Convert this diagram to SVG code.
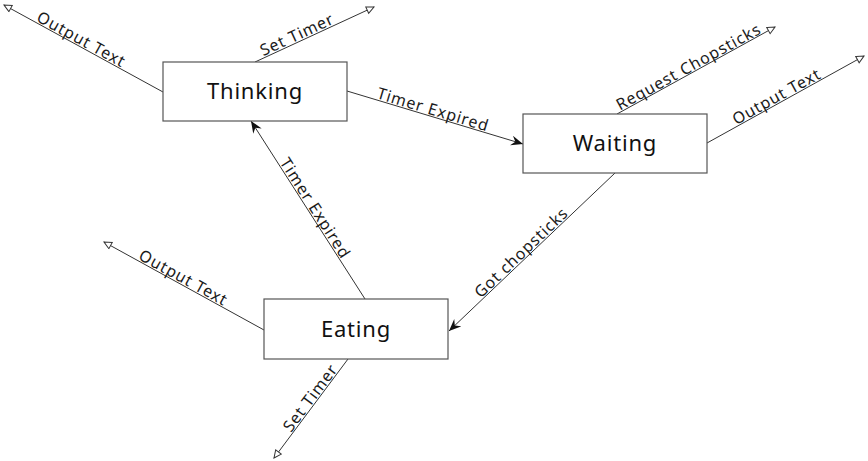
<svg xmlns="http://www.w3.org/2000/svg" width="868" height="461" viewBox="0 0 868 461">
<style>
.box{fill:#fff;stroke:#555;stroke-width:1.2}
.name{font-family:"Noto Sans","Liberation Sans",sans-serif;font-size:22px;letter-spacing:0.8px;fill:#111;text-anchor:middle;dominant-baseline:central}
.edge{fill:none;stroke:#333;stroke-width:1}
.lbl{font-family:"Noto Sans","Liberation Sans",sans-serif;font-size:16px;letter-spacing:0.9px;fill:#1a1a1a;text-anchor:middle}
.trans{marker-end:url(#solid)}
.out{marker-end:url(#open)}
</style>
<defs>
<marker id="solid" markerUnits="userSpaceOnUse" markerWidth="14" markerHeight="12" refX="12" refY="5" orient="auto">
<path d="M0,0 L12,5 L0,10 L4,5 z" fill="#111"/>
</marker>
<marker id="open" markerUnits="userSpaceOnUse" markerWidth="12" markerHeight="10" refX="8.5" refY="4" orient="auto">
<path d="M1,0.5 L8.5,4 L1,7.5 z" fill="#fff" stroke="#333" stroke-width="1"/>
</marker>
</defs>
<g id="connectors">
<line class="edge out" x1="163" y1="92" x2="4" y2="5"/>
<text class="lbl" transform="translate(78,45.5) rotate(28.7)" dy="-1.5">Output Text</text>
<line class="edge out" x1="255" y1="62" x2="374" y2="7"/>
<text class="lbl" transform="translate(300,41) rotate(-24.8)" dy="-1.5">Set Timer</text>
<line class="edge trans" x1="347" y1="91" x2="523" y2="144"/>
<text class="lbl" transform="translate(431,116.3) rotate(16.8)" dy="-1.5">Timer Expired</text>
<line class="edge out" x1="617" y1="114" x2="775" y2="27"/>
<text class="lbl" transform="translate(692,73) rotate(-28.8)" dy="-1.5">Request Chopsticks</text>
<line class="edge out" x1="707" y1="143" x2="864" y2="56"/>
<text class="lbl" transform="translate(780,102.6) rotate(-29)" dy="-1.5">Output Text</text>
<line class="edge trans" x1="615" y1="173" x2="449" y2="331"/>
<text class="lbl" transform="translate(526,257.7) rotate(-43.6)" dy="-1.5">Got chopsticks</text>
<line class="edge trans" x1="365" y1="299" x2="251" y2="121"/>
<text class="lbl" transform="translate(309.3,212) rotate(57.4)" dy="-1.5">Timer Expired</text>
<line class="edge out" x1="264" y1="330" x2="104" y2="242"/>
<text class="lbl" transform="translate(180,283.8) rotate(28.8)" dy="-1.5">Output Text</text>
<line class="edge out" x1="348" y1="359" x2="274" y2="458"/>
<text class="lbl" transform="translate(316,402) rotate(-53.2)" dy="-1.5">Set Timer</text>
</g>
<g id="thinking">
<rect class="box" x="163" y="62" width="184" height="59"/>
<text class="name" x="255" y="90">Thinking</text>
</g>
<g id="waiting">
<rect class="box" x="523" y="114" width="184" height="59"/>
<text class="name" x="615" y="142">Waiting</text>
</g>
<g id="eating">
<rect class="box" x="264" y="299" width="184" height="60"/>
<text class="name" x="356" y="327.5">Eating</text>
</g>
</svg>
